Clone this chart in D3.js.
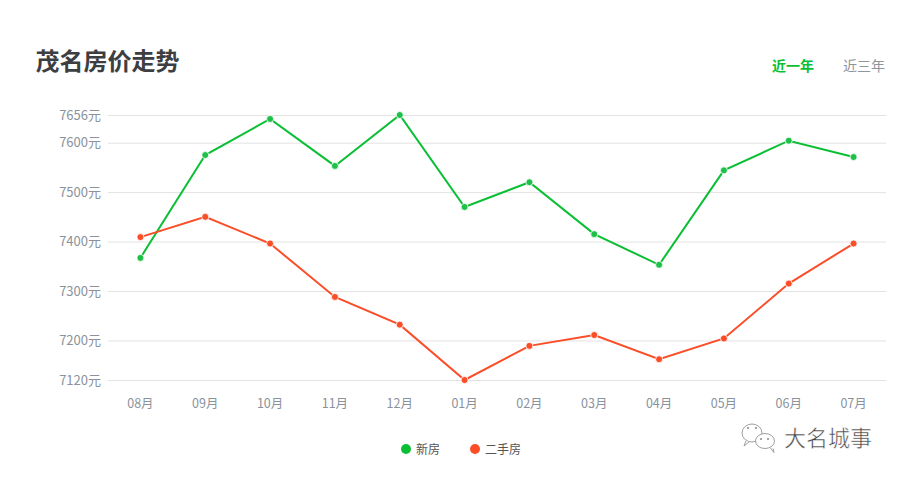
<!DOCTYPE html>
<html lang="zh-CN">
<head>
<meta charset="UTF-8">
<title>茂名房价走势</title>
<script src="https://d3js.org/d3.v7.min.js"></script>
<style>
    html, body { margin: 0; padding: 0; background: #fff; }
    svg { display: block; }
    text { font-family: "Noto Sans CJK SC", "Noto Sans", sans-serif; }
</style>
</head>
<body>
<svg width="901" height="478"></svg>
<script>
const months = ["08月", "09月", "10月", "11月", "12月", "01月", "02月", "03月", "04月", "05月", "06月", "07月"];
const newHouse = [7367, 7575, 7648, 7553, 7656, 7470, 7520, 7415, 7353, 7544, 7604, 7571];
const secondHand = [7409, 7450, 7396, 7288, 7232, 7120, 7189, 7211, 7162, 7204, 7315, 7396];
const yTicks = [7120, 7200, 7300, 7400, 7500, 7600, 7656];
const seriesNames = ["新房", "二手房"];
const seriesColors = ["#0bbf35", "#fb4d28"];

const svg = d3.select("svg");

const x = d3.scaleBand().domain(months).range([108, 886]);
const y = d3.scaleLinear().domain([7120, 7656]).range([380, 115]);

// title and range switch
svg.append("text").attr("x", 35.5).attr("y", 70)
    .attr("font-size", 24).attr("font-weight", 700).attr("fill", "#3c3e42").text("茂名房价走势");
svg.append("text").attr("x", 772).attr("y", 71)
    .attr("font-size", 14).attr("font-weight", 700).attr("fill", "#0bbf35").text("近一年");
svg.append("text").attr("x", 843).attr("y", 71)
    .attr("font-size", 14).attr("fill", "#8d949c").text("近三年");

// axes
const yAxis = d3.axisLeft(y).tickValues(yTicks).tickSize(0).tickPadding(7).tickFormat(d => d + "元");
const yG = svg.append("g").attr("transform", "translate(108,0)").call(yAxis);
yG.select(".domain").remove();
yG.selectAll("text").attr("font-size", 13).attr("fill", "#8a929c").style("font-family", null);
yG.selectAll("line").attr("x2", 778).attr("stroke", "#e2e2e2");

const xAxis = d3.axisBottom(x).tickSize(0).tickPadding(19);
const xG = svg.append("g").attr("transform", "translate(0,380)").call(xAxis);
xG.select(".domain").remove();
xG.selectAll("text").attr("font-size", 12.5).attr("fill", "#8a929c").style("font-family", null);

// lines and points
const line = d3.line().x((d, i) => x(months[i]) + x.bandwidth() / 2).y(d => y(d));
[newHouse, secondHand].forEach((values, s) => {
    svg.append("path").datum(values)
        .attr("d", line).attr("fill", "none")
        .attr("stroke", seriesColors[s]).attr("stroke-width", 2);
    svg.selectAll(".pt" + s).data(values).enter().append("circle")
        .attr("class", "pt" + s)
        .attr("cx", (d, i) => x(months[i]) + x.bandwidth() / 2)
        .attr("cy", d => y(d))
        .attr("r", 3.5)
        .attr("fill", s === 0 ? "#1fc04a" : "#fb4d28")
        .attr("stroke", "#fff").attr("stroke-width", 0.8);
});

// legend
const legendX = [406, 475];
seriesNames.forEach((name, s) => {
    svg.append("circle").attr("cx", legendX[s]).attr("cy", 449).attr("r", 5).attr("fill", seriesColors[s]);
    svg.append("text").attr("x", legendX[s] + 10).attr("y", 454)
        .attr("font-size", 12).attr("fill", "#555").text(name);
});

// watermark
const mark = svg.append("g");
const bubble = (cx, cy, rx, ry, tx) => {
    mark.append("ellipse").attr("cx", cx).attr("cy", cy).attr("rx", rx).attr("ry", ry)
        .attr("fill", "#fff").attr("stroke", "#888").attr("stroke-width", 0.8);
    mark.append("path").attr("d", `M${tx},${cy + ry - 1}l${cx < 760 ? -2 : 4},5l${cx < 760 ? 5 : -1},-4`)
        .attr("fill", "#fff").attr("stroke", "#888").attr("stroke-width", 0.8);
};
bubble(752, 433, 10, 9, 746);
bubble(765, 441, 9.5, 7.5, 770);
[[748, 428], [756, 428], [761, 439], [768, 439]].forEach(p => {
    mark.append("circle").attr("cx", p[0]).attr("cy", p[1]).attr("r", 1).attr("fill", "#888");
});
svg.append("text").attr("x", 784).attr("y", 446)
    .attr("font-size", 22).attr("fill", "#444")
    .attr("stroke", "#fff").attr("stroke-width", 0.5)
    .text("大名城事");
</script>
</body>
</html>
